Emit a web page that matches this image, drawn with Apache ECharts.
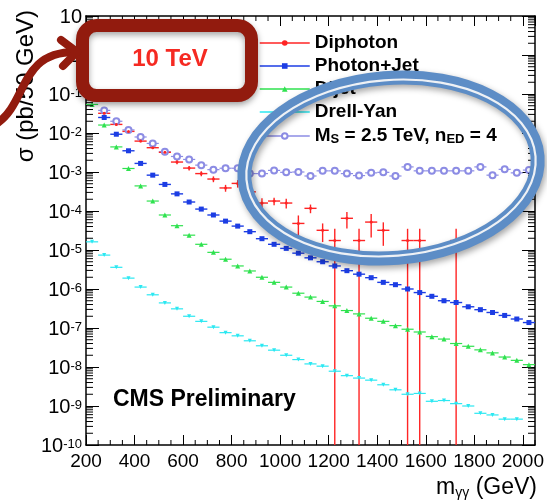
<!DOCTYPE html>
<html><head><meta charset="utf-8">
<script src="https://cdn.jsdelivr.net/npm/echarts@6/dist/echarts.min.js"></script>
<style>html,body{margin:0;padding:0;background:#fff}#c{width:547px;height:501px}</style>
</head><body><div id="c"></div>
<script>
// ---- data ----
const mass = [225,275,325,375,425,475,525,575,625,675,725,775,825,875,925,975,1025,1075,1125,1175,1225,1275,1325,1375,1425,1475,1525,1575,1625,1675,1725,1775,1825,1875,1925,1975,2025];
const diphoton = [1.1e-1,3.2e-2,1.66e-2,1.1e-2,6.2e-3,4.2e-3,3.2e-3,1.8e-3,1.26e-3,9.1e-4,6.6e-4,3.9e-4,5.1e-4,3.1e-4,1.6e-4,1.8e-4,1.6e-4,4.8e-5,1.17e-4,3.2e-5,1.75e-5,6.5e-5,1.75e-5,5.2e-5,3.2e-5,null,1.75e-5,1.75e-5,null,null,1.75e-5,null,null,null,null,null,null];
const diphotonRelErr = [0.03,0.04,0.05,0.06,0.07,0.08,0.1,0.12,0.13,0.15,0.17,0.2,0.22,0.3,0.33,0.22,0.28,0.6,0.25,0.5,1,0.45,1,0.6,0.6,null,1,1,null,null,1,null,null,null,null,null,null];
const photonJet = [8.9e-2,2.5e-2,9.3e-3,3.5e-3,1.66e-3,8.3e-4,4.8e-4,2.75e-4,1.7e-4,1.12e-4,7.9e-5,5.5e-5,4.1e-5,2.95e-5,1.95e-5,1.4e-5,1.1e-5,8.3e-6,6.3e-6,5.0e-6,3.9e-6,2.95e-6,2.4e-6,1.95e-6,1.48e-6,1.29e-6,1.0e-6,8.1e-7,6.5e-7,5.0e-7,4.5e-7,3.5e-7,2.95e-7,2.5e-7,2.1e-7,1.7e-7,1.38e-7];
const dijet = [5.4e-2,1.6e-2,4.4e-3,1.23e-3,4.4e-4,1.8e-4,7.9e-5,4.2e-5,2.4e-5,1.4e-5,8.7e-6,5.8e-6,3.9e-6,2.9e-6,2.0e-6,1.48e-6,1.12e-6,7.8e-7,6.2e-7,4.8e-7,3.7e-7,2.8e-7,2.3e-7,1.78e-7,1.48e-7,1.15e-7,9.3e-8,7.9e-8,6.0e-8,5.2e-8,4.0e-8,3.4e-8,2.75e-8,2.3e-8,1.8e-8,1.48e-8,1.15e-8];
const drellYan = [1.62e-5,7.4e-6,3.6e-6,1.9e-6,1.12e-6,7.1e-7,4.4e-7,3.1e-7,2.0e-7,1.48e-7,1.05e-7,7.6e-8,6.3e-8,4.7e-8,3.5e-8,2.7e-8,2.0e-8,1.55e-8,1.2e-8,1.05e-8,7.8e-9,6.0e-9,5.2e-9,4.6e-9,3.5e-9,2.6e-9,2.0e-9,2.1e-9,1.32e-9,1.38e-9,1.15e-9,1.0e-9,6.5e-10,5.9e-10,4.6e-10,4.6e-10,null];
const signal = [1.1e-1,3.8e-2,2.0e-2,1.2e-2,7.9e-3,5.4e-3,3.3e-3,2.5e-3,2.1e-3,1.5e-3,1.15e-3,1.25e-3,1.25e-3,9.1e-4,9.1e-4,1.1e-3,9.8e-4,1.0e-3,7.9e-4,1.07e-3,1.07e-3,9.1e-4,8.1e-4,9.5e-4,9.8e-4,7.9e-4,1.35e-3,1.07e-3,1.07e-3,1.07e-3,1.07e-3,1.07e-3,1.35e-3,8.3e-4,1.17e-3,9.5e-4,1.12e-3];
const seriesNames = ['Diphoton','Photon+Jet','Dijet','Drell-Yan','Signal'];
const signalLabel = 'M{sub|S} = 2.5 TeV, n{sub|ED} = 4';
const xTickLabels = [200,400,600,800,1000,1200,1400,1600,1800,2000];
const binWidth = 50;
const xMin = 200, xMax = 2050, yMin = 1e-10, yMax = 10;

// ---- helpers ----
const FONT = '"Liberation Sans", Arial, Helvetica, sans-serif';
const half = binWidth / 2;
function pts(arr){ return mass.map((m,i)=>arr[i]==null?null:[m,arr[i]]).filter(Boolean); }
function errPts(arr, rel){ return mass.map((m,i)=>arr[i]==null?null:[m,arr[i], rel? rel[i] : 0]).filter(Boolean); }
function errRender(color, lw){
  return function(params, api){
    const x = api.value(0), y = api.value(1), r = api.value(2);
    const c = api.coord([x,y]), a = api.coord([x-half,y]), b = api.coord([x+half,y]);
    const cs = params.coordSys;
    const ch = [{type:'line', shape:{x1:a[0],y1:c[1],x2:b[0],y2:c[1]}, style:{stroke:color,lineWidth:lw}}];
    if (r > 0) {
      const t = api.coord([x, y*(1+r)])[1];
      const bt = r >= 1 ? cs.y + cs.height : api.coord([x, y*(1-r)])[1];
      ch.push({type:'line', shape:{x1:c[0],y1:t,x2:c[0],y2:bt}, style:{stroke:color,lineWidth:lw}});
    }
    return {type:'group', children:ch};
  };
}
const logMinor = [];
for (let e=-10; e<1; e++) for (let m=2; m<=9; m++) logMinor.push([xMin, m*Math.pow(10,e)]);
const xMinor = [];
for (let v=xMin+binWidth; v<=xMax; v+=binWidth) if (xTickLabels.indexOf(v) < 0) xMinor.push([v, yMin]);

const colors = {Diphoton:'#ff2424','Photon+Jet':'#1c3de4',Dijet:'#2fe24f','Drell-Yan':'#2ae8f2',Signal:'#8c8ce4'};

function markerSeries(name, arr, symbol, size, extra){
  return Object.assign({
    type:'line', name, data: pts(arr), symbol, symbolSize: size, showSymbol:true,
    lineStyle:{width:0, color:colors[name]}, itemStyle:{color:colors[name]},
    xAxisIndex:0, yAxisIndex:0, silent:true, z:5
  }, extra || {});
}
function barSeries(name, arr, rel, lw){
  return {type:'custom', name:'_err_'+name, data: errPts(arr, rel), renderItem: errRender(colors[name], lw),
    xAxisIndex:0, yAxisIndex:0, clip:true, silent:true, z:4};
}

const chart = echarts.init(document.getElementById('c'), null, {renderer:'canvas'});
const axisLineStyle = {color:'#000', width:1.5};
chart.setOption({
  animation:false,
  backgroundColor:'#fff',
  grid:{left:86, right:9, top:15, bottom:56},
  xAxis:[
    {type:'value', min:xMin, max:xMax, interval:200, position:'bottom',
     axisLine:{show:true, onZero:false, lineStyle:axisLineStyle},
     axisTick:{show:true, inside:true, length:10, lineStyle:{color:'#000', width:1}},
     splitLine:{show:false},
     axisLabel:{show:true, color:'#000', fontSize:19, fontFamily:FONT, margin:7, showMaxLabel:false,
       formatter: v => xTickLabels.indexOf(v) >= 0 ? String(v) : ''}},
    {type:'value', min:xMin, max:xMax, interval:200, position:'top',
     axisLine:{show:true, onZero:false, lineStyle:axisLineStyle},
     axisTick:{show:true, inside:true, length:10, lineStyle:{color:'#000', width:1}},
     splitLine:{show:false}, axisLabel:{show:false}}
  ],
  yAxis:[
    {type:'log', logBase:10, min:yMin, max:yMax, interval:1, position:'left',
     axisLine:{show:true, onZero:false, lineStyle:axisLineStyle},
     axisTick:{show:true, inside:true, length:13, lineStyle:{color:'#000', width:1}},
     splitLine:{show:false},
     axisLabel:{show:true, color:'#000', fontFamily:FONT, fontSize:20, margin:4, hideOverlap:false,
       formatter: v => { const e = Math.round(Math.log10(v)); if (e === 1) return '{b|10}'; if (e === 0) return '{b|1}'; return '{b|10}{e|' + e + '}'; },
       rich:{
         b:{fontSize:20, fontFamily:FONT, color:'#000', lineHeight:22, padding:[7,0,0,0], verticalAlign:'bottom'},
         e:{fontSize:13, fontFamily:FONT, color:'#000', lineHeight:13, padding:[4,0,0,0], verticalAlign:'top'}
       }}},
    {type:'log', logBase:10, min:yMin, max:yMax, interval:1, position:'right',
     axisLine:{show:true, onZero:false, lineStyle:axisLineStyle},
     axisTick:{show:true, inside:true, length:13, lineStyle:{color:'#000', width:1}},
     splitLine:{show:false}, axisLabel:{show:false}}
  ],
  legend:{
    orient:'vertical', left:254, top:28, itemWidth:50, itemHeight:7, itemGap:3, itemTextGap:10,
    selectedMode:false, data: seriesNames,
    lineStyle:{width:1.5},
    formatter: n => n === 'Signal' ? signalLabel : n,
    textStyle:{fontSize:19, fontWeight:'bold', color:'#000', fontFamily:FONT, lineHeight:20,
      rich:{sub:{fontSize:13, fontWeight:'bold', color:'#000', fontFamily:FONT, lineHeight:13, verticalAlign:'bottom', padding:[8,0,0,0]}}}
  },
  series:[
    barSeries('Signal', signal, null, 1.2),
    markerSeries('Signal', signal, 'emptyCircle', 6, {itemStyle:{color:colors.Signal, borderColor:colors.Signal, borderWidth:1.2}}),
    barSeries('Drell-Yan', drellYan, null, 1.2),
    markerSeries('Drell-Yan', drellYan, 'triangle', 4, {symbolRotate:180}),
    barSeries('Dijet', dijet, null, 1.2),
    markerSeries('Dijet', dijet, 'triangle', 5),
    barSeries('Photon+Jet', photonJet, null, 1.4),
    markerSeries('Photon+Jet', photonJet, 'rect', 5),
    barSeries('Diphoton', diphoton, diphotonRelErr, 1.4),
    markerSeries('Diphoton', diphoton, 'circle', 3),
    {type:'custom', name:'_ymin', data:logMinor, silent:true, clip:false, z:6,
     renderItem:(p,api)=>{ const y = api.coord([xMin, api.value(1)])[1]; const cs = p.coordSys;
       return {type:'group', children:[
         {type:'line', shape:{x1:cs.x, y1:y, x2:cs.x+7, y2:y}, style:{stroke:'#000', lineWidth:1}},
         {type:'line', shape:{x1:cs.x+cs.width-7, y1:y, x2:cs.x+cs.width, y2:y}, style:{stroke:'#000', lineWidth:1}}]}; }},
    {type:'custom', name:'_xmin', data:xMinor, silent:true, clip:false, z:6,
     renderItem:(p,api)=>{ const x = api.coord([api.value(0), yMin])[0]; const cs = p.coordSys;
       return {type:'group', children:[
         {type:'line', shape:{x1:x, y1:cs.y+cs.height, x2:x, y2:cs.y+cs.height-5}, style:{stroke:'#000', lineWidth:1}},
         {type:'line', shape:{x1:x, y1:cs.y, x2:x, y2:cs.y+5}, style:{stroke:'#000', lineWidth:1}}]}; }}
  ],
  graphic:[
    {type:'text', x:26, y:10, rotation:Math.PI/2, z:50,
     style:{text:'σ (pb/50 GeV)', font:'24px ' + FONT, fill:'#000', align:'right', verticalAlign:'middle'}},
    {type:'text', x:537, y:488, z:50,
     style:{text:'m{s|γγ} (GeV)', font:'23px ' + FONT, fill:'#000', align:'right', verticalAlign:'middle',
       rich:{s:{fontSize:14, fontFamily:FONT, fill:'#000', verticalAlign:'bottom', padding:[10,0,0,0]}}}},
    {type:'text', x:113, y:400, z:50,
     style:{text:'CMS Preliminary', font:'bold 23px ' + FONT, fill:'#000', align:'left', verticalAlign:'middle'}},
    {type:'ellipse', x:391, y:168, rotation:0.08, z:100,
     shape:{cx:0, cy:0, rx:147, ry:90},
     style:{fill:'none', stroke:'#5d8dc6', lineWidth:14, shadowBlur:6, shadowColor:'rgba(0,0,0,0.35)', shadowOffsetX:2, shadowOffsetY:3}},
    {type:'ellipse', x:391, y:168, rotation:0.08, z:101,
     shape:{cx:0, cy:0, rx:145, ry:88},
     style:{fill:'none', stroke:'#eef1f5', lineWidth:2.2}},
    {type:'rect', z:100, shape:{x:82.5, y:25.5, width:169, height:70, r:14},
     style:{fill:'#fff', stroke:'#921b0e', lineWidth:13, shadowBlur:6, shadowColor:'rgba(0,0,0,0.35)', shadowOffsetY:3}},
    {type:'text', x:170, y:59, z:102,
     style:{text:'10 TeV', font:'bold 24px ' + FONT, fill:'#f52a22', align:'center', verticalAlign:'middle'}},
    {type:'bezierCurve', z:103,
     shape:{x1:-4, y1:124, cpx1:28, cpy1:104, cpx2:18, cpy2:52, x2:75, y2:52},
     style:{fill:'none', stroke:'#921b0e', lineWidth:8, lineCap:'round'}},
    {type:'polyline', z:103,
     shape:{points:[[61,40],[77,52],[63,66]]},
     style:{fill:'none', stroke:'#921b0e', lineWidth:8, lineCap:'round', lineJoin:'round'}}
  ]
});
</script>
</body></html>
